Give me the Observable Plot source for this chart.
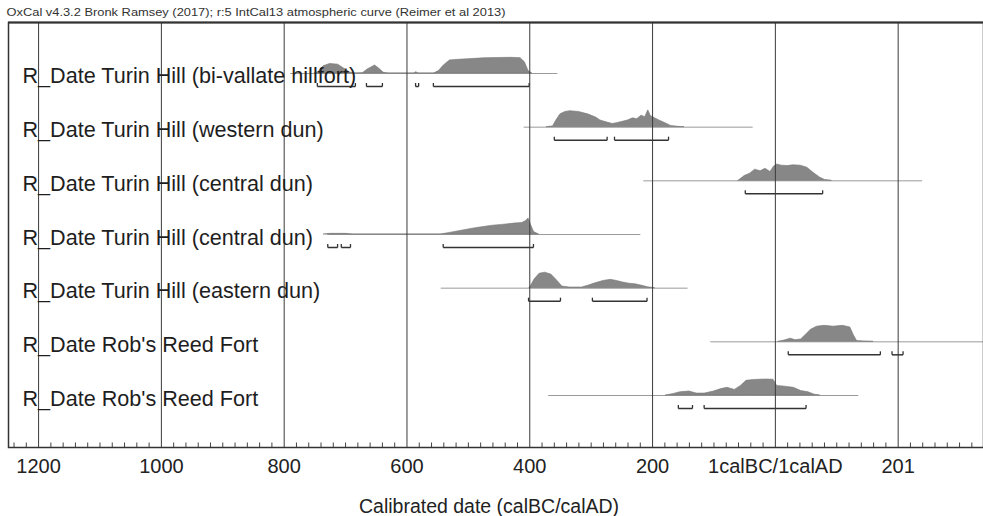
<!DOCTYPE html>
<html>
<head>
<meta charset="utf-8">
<script src="https://cdn.jsdelivr.net/npm/d3@7"></script>
<script src="https://cdn.jsdelivr.net/npm/@observablehq/plot@0.6"></script>
<style>
  html, body { margin: 0; padding: 0; background: #fff; }
  #chart { width: 983px; height: 516px; overflow: hidden; }
</style>
</head>
<body>
<div id="chart"></div>
<script>
// ---- Data (years: BC negative, AD positive; 0 = 1calBC/1calAD boundary) ----
const titleText = "OxCal v4.3.2 Bronk Ramsey (2017); r:5 IntCal13 atmospheric curve (Reimer et al 2013)";
const axisTitle = "Calibrated date (calBC/calAD)";

const rowLabels = [
  "R_Date Turin Hill (bi-vallate hillfort)",
  "R_Date Turin Hill (western dun)",
  "R_Date Turin Hill (central dun)",
  "R_Date Turin Hill (central dun)",
  "R_Date Turin Hill (eastern dun)",
  "R_Date Rob's Reed Fort",
  "R_Date Rob's Reed Fort"
];

// extent of the thin baseline for each row [from, to]
const rowSpans = [
  [-790, -355], [-410, -37], [-215, 239], [-730, -220], [-545, -143], [-106, 345], [-370, 135]
];

// probability distributions: [year, relative height]
const dist0 = [[-750,0],[-744,0.1],[-736,0.45],[-725,0.6],[-712,0.55],[-702,0.3],[-692,0.05],[-684,0],
  [-672,0.02],[-664,0.25],[-652,0.5],[-645,0.3],[-638,0.05],[-630,0],[-588,0],[-585,0.08],[-581,0],
  [-556,0],[-548,0.15],[-540,0.5],[-530,0.82],[-515,0.86],[-495,0.9],[-475,0.95],[-450,0.97],
  [-430,0.98],[-415,0.96],[-408,0.7],[-402,0.15],[-396,0]];
const dist1 = [[-372,0],[-362,0.05],[-357,0.4],[-350,0.8],[-342,0.95],[-334,1.0],[-320,0.95],
  [-305,0.8],[-292,0.6],[-285,0.42],[-275,0.3],[-265,0.2],[-258,0.25],[-250,0.32],[-240,0.42],
  [-232,0.55],[-225,0.5],[-218,0.72],[-212,0.62],[-207,1.05],[-203,0.7],[-196,0.55],[-188,0.4],
  [-179,0.25],[-170,0.08],[-158,0.02],[-148,0]];
const dist2 = [[-60,0],[-50,0.3],[-41,0.45],[-33,0.7],[-24,0.6],[-16,0.75],[-8,0.55],[-2,0.9],
  [3,1.02],[10,0.95],[20,0.92],[29,0.97],[41,0.95],[52,0.82],[62,0.5],[73,0.2],[81,0.05],[92,0]];
const dist3 = [[-735,0],[-725,0.04],[-700,0.04],[-688,0],[-545,0],[-530,0.1],[-513,0.22],
  [-495,0.35],[-478,0.45],[-460,0.55],[-445,0.6],[-425,0.68],[-412,0.72],[-406,0.85],
  [-402,1.0],[-398,0.6],[-393,0.15],[-385,0]];
const dist4 = [[-400,0],[-392,0.55],[-384,0.9],[-375,0.97],[-365,0.85],[-356,0.5],[-347,0.1],
  [-335,0.04],[-315,0.04],[-305,0.15],[-293,0.3],[-280,0.45],[-268,0.52],[-258,0.45],[-248,0.35],
  [-238,0.28],[-228,0.24],[-217,0.15],[-207,0.05],[-196,0]];
const dist5 = [[5,0],[15,0.08],[25,0.2],[33,0.1],[42,0.15],[50,0.45],[58,0.75],[68,0.95],[80,1.0],
  [95,0.95],[110,1.0],[122,0.9],[128,0.4],[133,0.05],[145,0.02],[160,0]];
const dist6 = [[-178,0],[-165,0.1],[-155,0.2],[-140,0.25],[-128,0.12],[-115,0.12],[-100,0.25],
  [-88,0.4],[-78,0.48],[-66,0.35],[-56,0.6],[-47,0.92],[-35,0.97],[-15,1.0],[-3,0.98],[3,0.6],
  [16,0.55],[30,0.48],[42,0.28],[54,0.2],[64,0.05],[73,0]];
const distributions = [dist0, dist1, dist2, dist3, dist4, dist5, dist6];

// 95.4% ranges (brackets)
const ranges0 = [[-746,-684],[-666,-640],[-586,-581],[-557,-401]];
const ranges1 = [[-360,-274],[-262,-174]];
const ranges2 = [[-49,77]];
const ranges3 = [[-729,-713],[-707,-692],[-541,-394]];
const ranges4 = [[-402,-350],[-298,-209]];
const ranges5 = [[21,171],[190,208]];
const ranges6 = [[-158,-135],[-116,50]];
const allRanges = [ranges0, ranges1, ranges2, ranges3, ranges4, ranges5, ranges6];

const majorTicks = [-1200, -1000, -800, -600, -400, -200, 0, 200];
const majorLabels = ["1200", "1000", "800", "600", "400", "200", "1calBC/1calAD", "201"];

// ---- Build tables ----
const rowPx = 53.67;            // pixel height of one row
const densityH = 16 / rowPx;    // max density height in row units
const bracketOff = 13 / rowPx;  // bracket offset below baseline
const capH = 3.5 / rowPx;

const areaData = distributions.flatMap((d, row) => d.map(([year, p]) => ({row, year, p})));
const spanData = rowSpans.map(([a, b], row) => ({row, a, b}));
const bracketData = allRanges.flatMap((r, row) => r.map(([a, b]) => ({row, a, b})));
const capData = bracketData.flatMap(d => [{row: d.row, x: d.a}, {row: d.row, x: d.b}]);
const labelData = rowLabels.map((label, row) => ({row, label}));
const minorTicks = d3.range(-1240, 340, 20).filter(v => !majorTicks.includes(v));
const tickFmt = v => majorLabels[majorTicks.indexOf(v)] ?? "";

const yTop = -51 / rowPx;
const yBottom = 6 + (447 - 395) / rowPx;

const chart = Plot.plot({
  width: 983,
  height: 516,
  marginLeft: 8,
  marginRight: 0,
  marginTop: 22,
  marginBottom: 69,
  style: {fontFamily: "'Liberation Sans', Arial, sans-serif", fontSize: "20px", color: "#222", background: "#fff"},
  x: {domain: [-1249, 339], ticks: majorTicks, tickFormat: tickFmt, tickSize: 0, tickPadding: 11, label: null},
  y: {domain: [yTop, yBottom], reverse: true, axis: null},
  marks: [
    Plot.link(spanData, {x1: "a", x2: "b", y1: "row", y2: "row", stroke: "#9a9a9a", strokeWidth: 1}),
    Plot.areaY(areaData, {x: "year", y1: "row", y2: d => d.row - d.p * densityH, z: "row",
      fill: "#878787", stroke: "#767676", strokeWidth: 0.6}),
    Plot.link(bracketData, {x1: "a", x2: "b", y1: d => d.row + bracketOff, y2: d => d.row + bracketOff,
      stroke: "#333", strokeWidth: 1.5}),
    Plot.link(capData, {x1: "x", x2: "x", y1: d => d.row + bracketOff, y2: d => d.row + bracketOff - capH,
      stroke: "#333", strokeWidth: 1.3}),
    Plot.ruleX(majorTicks, {stroke: "#3a3a3a", strokeWidth: 1}),
    Plot.ruleX(minorTicks, {y1: yBottom, y2: yBottom - 4.5 / rowPx, stroke: "#444", strokeWidth: 1}),
    Plot.frame({stroke: "#333", strokeWidth: 1.5}),
    Plot.ruleY([yTop], {stroke: "#333", strokeWidth: 2}),
    Plot.text(labelData, {frameAnchor: "left", dx: 14, y: "row", dy: 10, text: "label",
      textAnchor: "start", lineAnchor: "bottom", fontSize: 21.6, fill: "#1e1e1e"}),
    Plot.text([titleText], {frameAnchor: "top-left", dx: -2, dy: -7, textAnchor: "start",
      lineAnchor: "bottom", fontSize: 11, fill: "#333", className: "oxcal-title"}),
    Plot.text([axisTitle], {frameAnchor: "bottom", dx: -7, dy: 59, lineAnchor: "middle",
      fontSize: 19.5, fill: "#222"})
  ]
});
document.getElementById("chart").appendChild(chart);
// the reference title is set in a condensed face spanning ~500px
d3.select(chart).selectAll(".oxcal-title text")
  .attr("textLength", 499).attr("lengthAdjust", "spacingAndGlyphs");
</script>
</body>
</html>
